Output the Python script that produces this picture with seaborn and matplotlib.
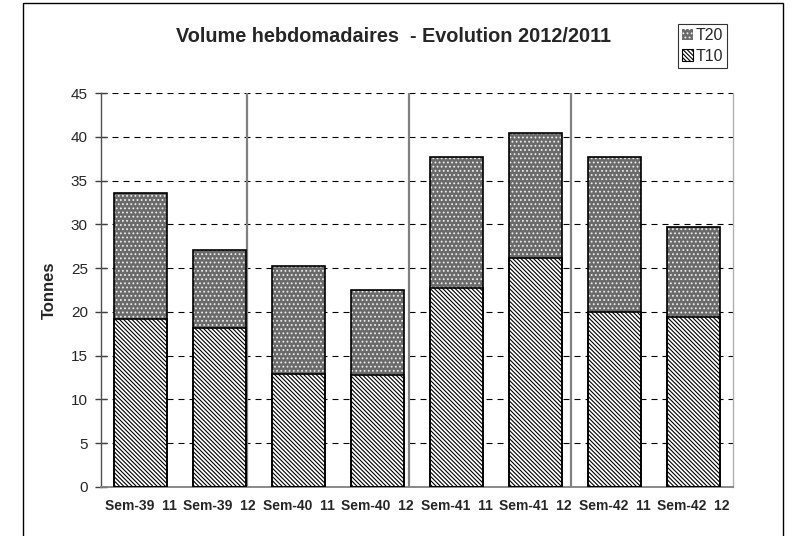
import numpy as np
import pandas as pd
import matplotlib
matplotlib.use("Agg")
import matplotlib.pyplot as plt
import seaborn as sns
from matplotlib.patches import Rectangle, Patch

# ---- data ----
weeks = ["Sem-39  11", "Sem-39  12", "Sem-40  11", "Sem-40  12",
         "Sem-41  11", "Sem-41  12", "Sem-42  11", "Sem-42  12"]
t10 = [19.2, 18.2, 12.9, 12.8, 22.7, 26.2, 20.0, 19.4]
t20 = [14.4, 8.9, 12.3, 9.7, 15.0, 14.2, 17.7, 10.3]
yticks = [0, 5, 10, 15, 20, 25, 30, 35, 40, 45]
separators = [1.35, 3.4, 5.45]
title = "Volume hebdomadaires  - Evolution 2012/2011"

sns.set_theme(style="white")
plt.rcParams["font.family"] = ["Liberation Sans", "DejaVu Sans"]
plt.rcParams["hatch.linewidth"] = 0.8

HATCH20 = "...."
HATCH10 = "\\" * 8
FACE20 = "#6a6a6a"
DOT20 = "#ececec"

fig = plt.figure(figsize=(7.94, 5.36), dpi=100)
ax = fig.add_axes([101 / 794, 1 - 487 / 536, 632 / 794, 394 / 536])

df = pd.DataFrame({"week": weeks, "T10": t10, "T20": t20})
df["top"] = df["T10"] + df["T20"]

sns.barplot(data=df, x="week", y="top", color="#808080", width=0.68,
            saturation=1, ax=ax, zorder=3)
n20 = len(ax.patches)
sns.barplot(data=df, x="week", y="T10", color="white", width=0.68,
            saturation=1, ax=ax, zorder=3)

patches = list(ax.patches)
for i, p in enumerate(patches):
    if i < n20:
        p.set_facecolor(FACE20)
        p.set_hatch(HATCH20)
        p.set_edgecolor(DOT20)
    else:
        p.set_facecolor("white")
        p.set_hatch(HATCH10)
        p.set_edgecolor("black")
    p.set_linewidth(0)
    ax.add_patch(Rectangle(p.get_xy(), p.get_width(), p.get_height(),
                           fill=False, edgecolor="black", linewidth=1.2, zorder=4))

ax.set_xlim(-0.5, len(weeks) - 0.5)
ax.set_ylim(0, 45)
ax.set_yticks(yticks)
ax.yaxis.grid(True, color="black", linestyle=(0, (5.4, 4.5)), linewidth=0.8)
ax.xaxis.grid(False)
ax.set_axisbelow(True)
ax.vlines(separators, 0, 45, color="#808080", linewidth=1.6, zorder=2)

ax.set_xticks(range(len(weeks)))
ax.set_xticklabels(weeks, fontweight="bold", fontsize=10)
ax.set_xticks(np.arange(-0.5, len(weeks), 1), minor=True)
ax.tick_params(axis="x", which="major", length=0, pad=9)
ax.tick_params(axis="x", which="minor", length=7, direction="inout",
               color="#606060", width=1)
ax.tick_params(axis="y", which="major", length=9, direction="inout",
               color="#404040", width=1, labelsize=11, pad=5, left=True)
ax.set_xlabel("")
ax.set_ylabel("Tonnes", fontweight="bold", fontsize=12)
ax.yaxis.set_label_coords((57 - 101) / 632, 0.5)

ax.spines["top"].set_visible(False)
ax.spines["left"].set_color("#505050")
ax.spines["left"].set_linewidth(1)
ax.spines["bottom"].set_color("#808080")
ax.spines["bottom"].set_linewidth(1.3)
ax.spines["right"].set_color("#b0b0b0")
ax.spines["right"].set_linewidth(1)

fig.text(393 / 794, 1 - 37 / 536, title, ha="center", va="center",
         fontweight="bold", fontsize=14.3)

handles = [Patch(facecolor=FACE20, edgecolor=DOT20, hatch=HATCH20, linewidth=0),
           Patch(facecolor="white", edgecolor="black", hatch=HATCH10, linewidth=0.8)]
leg = fig.legend(handles, ["T20", "T10"], loc="upper left",
                 bbox_to_anchor=(678 / 794, 1 - 24 / 536), fontsize=11.5,
                 frameon=True, fancybox=False, handlelength=0.7,
                 handleheight=0.7, handletextpad=0.15, labelspacing=0.35,
                 borderpad=0.25, borderaxespad=0)
leg.get_frame().set_edgecolor("black")
leg.get_frame().set_linewidth(0.8)

fig.add_artist(Rectangle((23 / 794, -0.05), (783 - 23) / 794, 1.05 - 3 / 536,
                         transform=fig.transFigure, fill=False,
                         edgecolor="black", linewidth=1))

fig.savefig("out.png", dpi=100)
